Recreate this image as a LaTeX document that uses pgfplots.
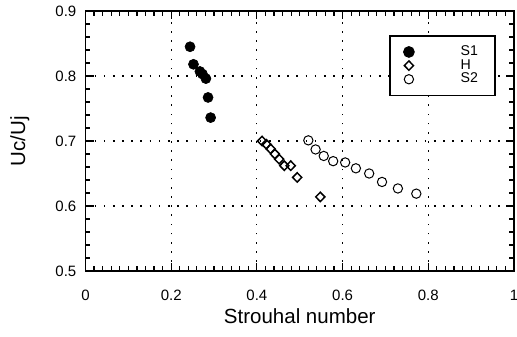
\documentclass[border=0pt]{standalone}
\usepackage{fontspec}
\setmainfont{Liberation Sans}
\usepackage{pgfplots}
\pgfplotsset{compat=1.18}
\usetikzlibrary{calc}
\begin{document}
\begin{tikzpicture}
\begin{axis}[
  scale only axis,
  width=257.1pt, height=156pt,
  xmin=0, xmax=1, ymin=0.5, ymax=0.9,
  xtick={0,0.2,0.4,0.6,0.8,1}, ytick={0.5,0.6,0.7,0.8,0.9},
  xticklabels={0,0.2,0.4,0.6,0.8,1},
  yticklabels={0.5,0.6,0.7,0.8,0.9},
  minor xtick={0,0.02,...,1}, minor ytick={0.5,0.52,...,0.9},
  tick align=inside,
  major tick length=5pt, minor tick length=3pt,
  every tick/.append style={black, solid, line width=0.7pt},
  axis line style={line width=0.9pt},
  xmajorgrids, ymajorgrids,
  major grid style={black, line width=0.7pt, dash pattern=on 1pt off 4.5pt},
  /pgf/number format/assume math mode=true,
  tick label style={font=\fontsize{9}{10}\selectfont},
  xticklabel style={yshift=-8pt},
  yticklabel style={xshift=-2pt},
  xlabel={Strouhal number},
  ylabel={Uc/Uj},
  label style={font=\fontsize{12.3}{14}\selectfont},
  xlabel style={at={(axis description cs:0.5,-0.175)}, anchor=center},
  ylabel style={at={(axis description cs:-0.153,0.5)}, anchor=center},
  legend style={at={(0.957,0.908)}, anchor=north east, draw=black, line width=1pt,
    font=\fontsize{8.5}{8.5}\selectfont, inner xsep=8.5pt, inner ysep=4pt, row sep=-3.2pt},
  legend cell align=left,
]
\addplot[only marks, mark=*, mark size=3pt, mark options={fill=black, draw=black}] coordinates {
 (0.244,0.845) (0.252,0.818) (0.267,0.807) (0.273,0.803) (0.281,0.796) (0.286,0.767) (0.292,0.736)
};
\addlegendentry{\hspace{26pt}\makebox[10pt][l]{S1}}
\addplot[only marks, mark=diamond, mark size=2.8pt, mark options={draw=black, line width=0.9pt, fill=white, xscale=1.3}] coordinates {
 (0.412,0.700) (0.422,0.695) (0.432,0.688) (0.442,0.680) (0.452,0.672) (0.464,0.662) (0.479,0.662) (0.494,0.644) (0.548,0.614)
};
\addlegendentry{\hspace{26pt}\makebox[10pt][l]{H}}
\addplot[only marks, mark=o, mark size=2.8pt, mark options={draw=black, line width=0.6pt, fill=white}] coordinates {
 (0.520,0.701) (0.537,0.687) (0.556,0.677) (0.578,0.669) (0.606,0.667) (0.631,0.658) (0.662,0.650) (0.692,0.637) (0.729,0.627) (0.772,0.619)
};
\addlegendentry{\hspace{26pt}\makebox[10pt][l]{S2}}
\end{axis}
\pgfresetboundingbox
\path[use as bounding box] ($(current axis.south west)+(-51.3pt,-39pt)$) rectangle ($(current axis.north east)+(1.8pt,6.6pt)$);
\end{tikzpicture}
\end{document}
